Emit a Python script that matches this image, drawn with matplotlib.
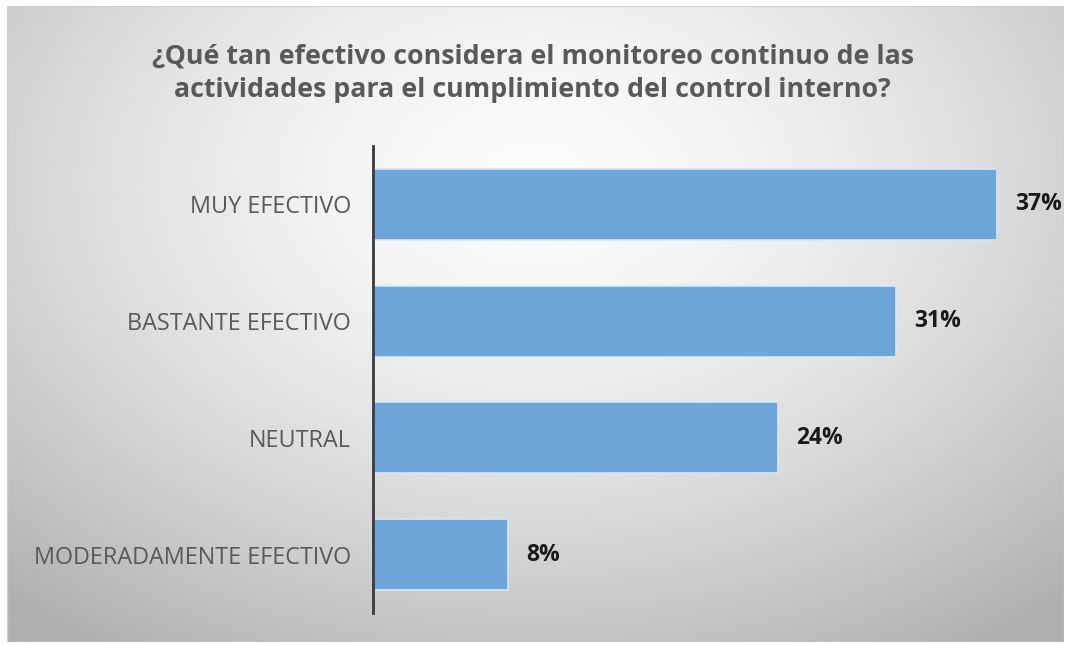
import matplotlib.pyplot as plt
import numpy as np
from matplotlib.patches import Rectangle

categories = ["MUY EFECTIVO", "BASTANTE EFECTIVO", "NEUTRAL", "MODERADAMENTE EFECTIVO"]
percentages = [37, 31, 24, 8]
title = ("¿Qué tan efectivo considera el monitoreo continuo de las\n"
         "actividades para el cumplimiento del control interno?")

W, H = 1065, 645
fig = plt.figure(figsize=(W / 100, H / 100), dpi=100)
fig.patch.set_facecolor("white")

# chart area with a soft radial gradient (light centre, grey edges)
frame = (7, 6, 1064, 642)
bg = fig.add_axes([frame[0] / W, 1 - frame[3] / H,
                   (frame[2] - frame[0]) / W, (frame[3] - frame[1]) / H])
gx, gy = np.meshgrid(np.linspace(-1, 1, 400), np.linspace(-1, 1, 250))
r = np.sqrt(((gx - 0.0) / 1.25) ** 2 + ((gy + 0.45) / 1.45) ** 2)
shade = 0.985 - 0.22 * np.clip(r, 0, 1.2) ** 1.6
bg.imshow(shade, cmap="gray", vmin=0, vmax=1, aspect="auto",
          extent=(0, 1, 0, 1), origin="upper", interpolation="bicubic")
bg.add_patch(Rectangle((0, 0), 1, 1, transform=bg.transAxes, fill=False,
                       edgecolor="#d0d0d0", linewidth=1.0))
bg.set_axis_off()

fig.text(0.5, 1 - 73 / H, title, ha="center", va="center",
         fontsize=19.3, fontweight="bold", color="#595959",
         family="Open Sans", linespacing=1.4)

left, right, top, bottom = 373, 997, 146, 613
ax = fig.add_axes([left / W, 1 - bottom / H, (right - left) / W, (bottom - top) / H])
ax.patch.set_alpha(0)

ypos = np.arange(len(categories))
ax.barh(ypos, percentages, height=0.61, color="#6fa6da",
        edgecolor="#d6e8f7", linewidth=1.2)
ax.set_xlim(0, max(percentages))
ax.set_ylim(len(categories) - 0.5, -0.5)

for y, v in zip(ypos, percentages):
    ax.annotate(f"{v}%", (v, y), xytext=(13, 0), textcoords="offset points",
                ha="left", va="center", fontsize=16.5, fontweight="bold",
                color="#1a1a1a", family="Open Sans", annotation_clip=False)

ax.set_yticks(ypos)
ax.set_yticklabels(categories, fontsize=16.8, color="#595959", family="Open Sans")
ax.tick_params(axis="y", length=0, pad=16)
ax.set_xticks([])
for side in ("top", "right", "bottom"):
    ax.spines[side].set_visible(False)
ax.spines["left"].set_color("#3a3a3a")
ax.spines["left"].set_linewidth(2)

fig.savefig("out.png", dpi=100)
